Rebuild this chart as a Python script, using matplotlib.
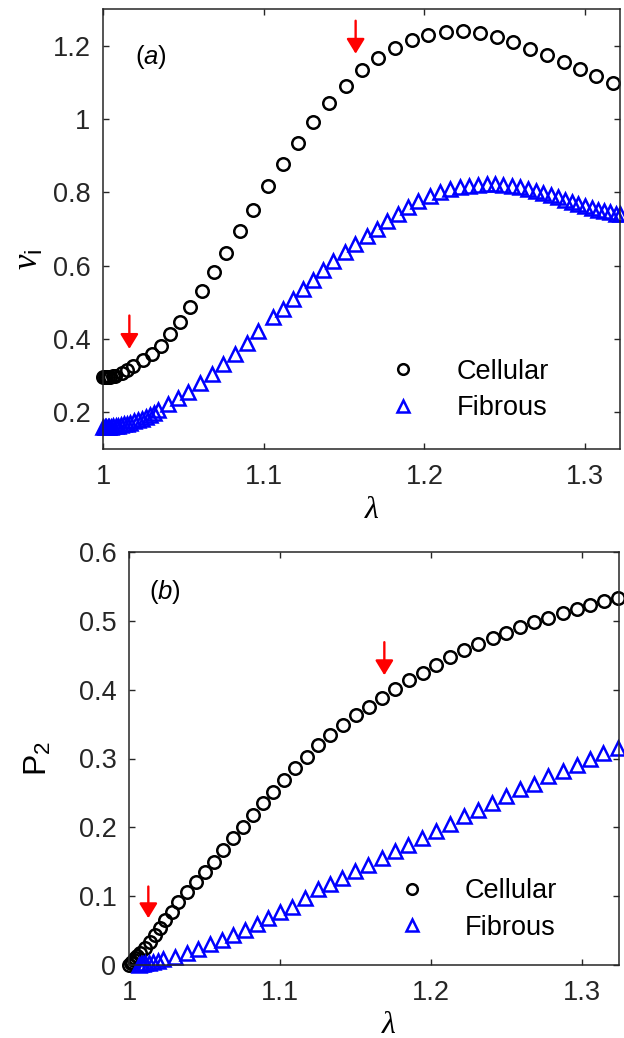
import matplotlib
matplotlib.use('Agg')
import matplotlib.pyplot as plt

plt.rcParams['font.family'] = ['Liberation Sans', 'DejaVu Sans']
plt.rcParams['mathtext.fontset'] = 'custom'
plt.rcParams['mathtext.rm'] = 'Liberation Sans'
plt.rcParams['mathtext.it'] = 'Liberation Serif:italic'
plt.rcParams['mathtext.sf'] = 'Liberation Sans:italic'

# ---- panel (a): nu_i vs lambda ----
lam_a_cell = [1.000, 1.001, 1.002, 1.003, 1.0045, 1.006, 1.0075, 1.0116, 1.0151, 1.0189,
              1.0247, 1.0303, 1.0361, 1.0417, 1.048, 1.054, 1.0618, 1.069, 1.0765, 1.0852,
              1.0935, 1.1029, 1.1118, 1.1211, 1.1309, 1.1406, 1.151, 1.161, 1.1713, 1.1817,
              1.1921, 1.2024, 1.2134, 1.2238, 1.2346, 1.245, 1.2553, 1.2657, 1.2765, 1.2869,
              1.2968, 1.3068, 1.3172]
nu_cell = [0.296, 0.296, 0.296, 0.2965, 0.297, 0.298, 0.300, 0.307, 0.316, 0.325,
           0.3435, 0.358, 0.381, 0.4125, 0.446, 0.487, 0.530, 0.582, 0.635, 0.694,
           0.753, 0.8166, 0.8777, 0.935, 0.993, 1.044, 1.091, 1.134, 1.166, 1.193,
           1.2155, 1.229, 1.238, 1.241, 1.235, 1.223, 1.209, 1.191, 1.175, 1.156,
           1.137, 1.116, 1.097]

lam_a_fib = [1.000, 1.001, 1.002, 1.003, 1.004, 1.005, 1.0065, 1.008, 1.0095, 1.011,
             1.013, 1.015, 1.017, 1.019, 1.0215, 1.024, 1.0265, 1.029, 1.0315, 1.0344,
             1.0407, 1.0469, 1.0531, 1.0604, 1.0676, 1.0749, 1.0821, 1.0894, 1.0966, 1.106,
             1.1122, 1.1184, 1.1247, 1.1309, 1.1371, 1.1433, 1.1506, 1.1568, 1.1641, 1.1703,
             1.1765, 1.1838, 1.19, 1.1962, 1.2035, 1.2097, 1.216, 1.222, 1.228, 1.2335,
             1.239, 1.244, 1.2491, 1.2543, 1.2595, 1.2647, 1.2693, 1.274, 1.2788, 1.2833,
             1.2875, 1.2917, 1.2958, 1.2999, 1.3041, 1.3082, 1.312, 1.3155, 1.319, 1.3217]
nu_fib = [0.160, 0.160, 0.160, 0.1605, 0.161, 0.161, 0.162, 0.163, 0.164, 0.165,
          0.167, 0.169, 0.172, 0.175, 0.179, 0.183, 0.188, 0.193, 0.199, 0.207,
          0.2225, 0.238, 0.256, 0.280, 0.305, 0.332, 0.360, 0.390, 0.421, 0.4597,
          0.4825, 0.510, 0.537, 0.5615, 0.587, 0.614, 0.637, 0.6596, 0.6822, 0.700,
          0.723, 0.741, 0.759, 0.7757, 0.7913, 0.802, 0.808, 0.814, 0.818, 0.821,
          0.822, 0.822, 0.821, 0.818, 0.814, 0.809, 0.804, 0.798, 0.792, 0.786,
          0.780, 0.774, 0.768, 0.762, 0.757, 0.752, 0.748, 0.745, 0.742, 0.740]

# ---- panel (b): P2 vs lambda ----
lam_b_cell = [1.000, 1.001, 1.002, 1.003, 1.004, 1.0055, 1.0073, 1.0106, 1.0139, 1.0172,
              1.0205, 1.0238, 1.0283, 1.0327, 1.0382, 1.0442, 1.0503, 1.0565, 1.0625, 1.0691,
              1.0757, 1.0823, 1.0889, 1.0956, 1.1029, 1.1099, 1.1177, 1.1254, 1.1331, 1.1419,
              1.1503, 1.1591, 1.1673, 1.1762, 1.1856, 1.1945, 1.2033, 1.2126, 1.2219, 1.2313,
              1.2409, 1.2497, 1.2589, 1.2684, 1.2777, 1.2872, 1.2965, 1.3053, 1.3146, 1.3236]
p2_cell = [0.000, 0.0025, 0.005, 0.0075, 0.0097, 0.013, 0.017, 0.0242, 0.0338, 0.0435,
           0.0532, 0.0653, 0.0774, 0.0919, 0.1064, 0.1209, 0.1354, 0.150, 0.1669, 0.1839,
           0.2007, 0.2177, 0.2347, 0.2516, 0.2685, 0.2855, 0.3023, 0.3193, 0.3338, 0.3483,
           0.3628, 0.3749, 0.388, 0.4006, 0.4136, 0.4243, 0.4364, 0.4475, 0.4572, 0.4669,
           0.475, 0.4823, 0.491, 0.4983, 0.5046, 0.5113, 0.5177, 0.5235, 0.5287, 0.5337]

lam_b_fib = [1.0065, 1.008, 1.0093, 1.0106, 1.0133, 1.0161, 1.0194, 1.0227, 1.0305, 1.0382,
             1.0459, 1.0536, 1.0614, 1.0691, 1.0768, 1.0846, 1.0923, 1.100, 1.1077, 1.1165,
             1.1254, 1.1331, 1.1408, 1.1497, 1.1585, 1.1673, 1.1762, 1.185, 1.1938, 1.2033,
             1.2126, 1.2219, 1.2309, 1.2402, 1.2495, 1.2589, 1.2682, 1.2777, 1.2872, 1.2965,
             1.3053, 1.3141, 1.3236]
p2_fib = [0.000, 0.0008, 0.0015, 0.0025, 0.0036, 0.0048, 0.0065, 0.0083, 0.012, 0.017,
          0.0228, 0.030, 0.0363, 0.0435, 0.0508, 0.0595, 0.0677, 0.0774, 0.0846, 0.098,
          0.1098, 0.1176, 0.127, 0.1364, 0.1451, 0.1548, 0.1659, 0.1742, 0.1839, 0.1949,
          0.2046, 0.2163, 0.225, 0.2356, 0.2453, 0.255, 0.2627, 0.2743, 0.2816, 0.2903,
          0.300, 0.3073, 0.3154]

# red arrows (lambda, tail value, tip value)
arrows_a = [(1.0164, 0.464, 0.373), (1.1572, 1.268, 1.178)]
arrows_b = [(1.0128, 0.114, 0.068), (1.1691, 0.469, 0.421)]

axis_col = '#262626'
fs = 19.5

fig = plt.figure(figsize=(6.24, 10.38), dpi=100)
ax1 = fig.add_axes([103/624, 1-449/1038, 517/624, 440/1038])
ax2 = fig.add_axes([129/624, 1-965/1038, 490/624, 413/1038])

def style(ax):
    for s in ax.spines.values():
        s.set_color(axis_col)
        s.set_linewidth(1.1)
    ax.tick_params(direction='in', top=True, right=True, length=4, width=1.0,
                   color=axis_col, labelcolor=axis_col, labelsize=fs)
    ax.tick_params(axis='x', pad=11)
    ax.tick_params(axis='y', pad=9)

mk = dict(linestyle='none', clip_on=False, markerfacecolor='none', markeredgewidth=1.8)

def arrows(ax, lst):
    for x, y0, y1 in lst:
        ax.annotate('', xy=(x, y1), xytext=(x, y0),
                    arrowprops=dict(arrowstyle='-|>,head_width=0.55,head_length=0.9',
                                    color='#ff0000', lw=1.7, mutation_scale=10,
                                    shrinkA=0, shrinkB=0))

leg_kw = dict(loc='upper left', frameon=False, fontsize=fs, handlelength=1.0,
              handletextpad=1.45, labelspacing=0.38, borderpad=0, borderaxespad=0,
              markerscale=0.85)

# (a)
ax1.plot(lam_a_cell, nu_cell, marker='o', markersize=9, markeredgecolor='black', label='Cellular', **mk)
ax1.plot(lam_a_fib, nu_fib, marker='^', markersize=9.5, markeredgecolor='#0000ff', label='Fibrous', **mk)
ax1.set_xlim(1, 1.3217)
ax1.set_ylim(0.1, 1.3)
ax1.set_xticks([1, 1.1, 1.2, 1.3])
ax1.set_xticklabels(['1', '1.1', '1.2', '1.3'])
ax1.set_yticks([0.2, 0.4, 0.6, 0.8, 1.0, 1.2])
ax1.set_yticklabels(['0.2', '0.4', '0.6', '0.8', '1', '1.2'])
style(ax1)
ax1.set_xlabel(r'$\lambda$', fontsize=23)
ax1.xaxis.set_label_coords(0.52, -0.105)
ax1.set_ylabel(r'$\nu_{\mathrm{i}}$', fontsize=25)
ax1.yaxis.set_label_coords(-0.112, 0.43)
ax1.text(0.062, 0.875, r'($\mathsf{a}$)', transform=ax1.transAxes, fontsize=18.5, color='black')
arrows(ax1, arrows_a)
ax1.legend(bbox_to_anchor=(0.555, 0.205), **leg_kw)

# (b)
ax2.plot(lam_b_cell, p2_cell, marker='o', markersize=9, markeredgecolor='black', label='Cellular', **mk)
ax2.plot(lam_b_fib, p2_fib, marker='^', markersize=9.5, markeredgecolor='#0000ff', label='Fibrous', **mk)
ax2.set_xlim(1, 1.3245)
ax2.set_ylim(0, 0.6)
ax2.set_xticks([1, 1.1, 1.2, 1.3])
ax2.set_xticklabels(['1', '1.1', '1.2', '1.3'])
ax2.set_yticks([0, 0.1, 0.2, 0.3, 0.4, 0.5, 0.6])
ax2.set_yticklabels(['0', '0.1', '0.2', '0.3', '0.4', '0.5', '0.6'])
style(ax2)
ax2.set_xlabel(r'$\lambda$', fontsize=23)
ax2.xaxis.set_label_coords(0.53, -0.108)
ax2.set_ylabel(r'$\mathrm{P}_{\mathrm{2}}$', fontsize=23)
ax2.yaxis.set_label_coords(-0.155, 0.5)
ax2.text(0.04, 0.885, r'($\mathsf{b}$)', transform=ax2.transAxes, fontsize=18.5, color='black')
arrows(ax2, arrows_b)
ax2.legend(bbox_to_anchor=(0.55, 0.21), **leg_kw)

fig.savefig('out.png', dpi=100, facecolor='white')
